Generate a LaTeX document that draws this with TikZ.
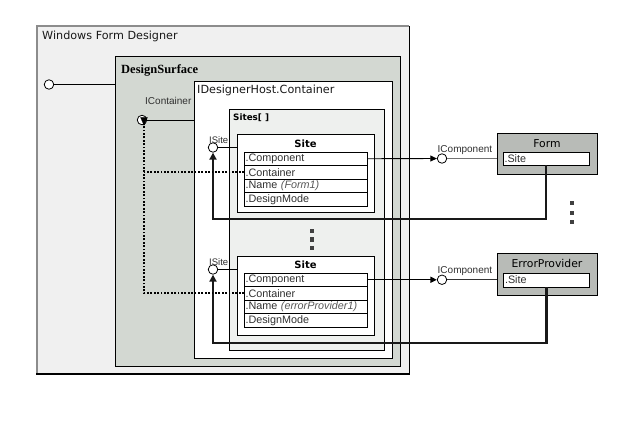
\documentclass[tikz,border=0pt]{standalone}
\usepackage{fontspec}
\setmainfont{Liberation Sans}
\newfontfamily\hdfont{DejaVu Sans}
\newfontfamily\serifbf{Liberation Serif}
\usetikzlibrary{arrows.meta}
\definecolor{outerfill}{HTML}{F0F0F0}
\definecolor{dsfill}{HTML}{D3D8D2}
\definecolor{sitesfill}{HTML}{EEF0EE}
\definecolor{compfill}{HTML}{B8BBB7}
\definecolor{txt}{HTML}{303030}
\begin{document}
\begin{tikzpicture}[x=1pt,y=-1pt,
  frame/.style={anchor=north west, inner sep=0pt, outer sep=0pt},
  boxln/.style={frame, draw=black, line width=0.8pt},
  field/.style={frame, draw=black, line width=0.7pt, fill=white, text width=120pt, inner xsep=1.5pt,
     minimum height=13.5pt, align=left, text=txt, font=\fontsize{10.8}{11}\selectfont},
  sfield/.style={field, text width=83pt},
  hdr/.style={anchor=base west, inner sep=0pt, font=\hdfont\fontsize{11.2}{12}\selectfont, text=black!90},
  lbl/.style={anchor=base west, inner sep=0pt, text=txt, font=\fontsize{10}{11}\selectfont},
  port/.style={circle, draw=black, line width=0.8pt, fill=white, minimum size=9.5pt, inner sep=0pt},
  dotsq/.style={fill=black!75, minimum size=4.2pt, inner sep=0pt},
  thinarr/.style={line width=0.9pt, -{Triangle[length=6.5pt,width=6pt]}},
  retarr/.style={line width=2.2pt, draw=black!90, -{Triangle[length=7pt,width=7pt]}},
  dotarr/.style={line width=1.9pt, dash pattern=on 1.8pt off 1.6pt},
]
\useasboundingbox (0,0) rectangle (629,431);
\fill[white] (0,0) rectangle (629,431);

% Windows Form Designer
\node[frame, fill=outerfill, minimum width=372pt, minimum height=348pt] (wfd) at (37,26) {};
\draw[black!45, line width=1.6pt] (wfd.south west) -- (wfd.north west) -- (wfd.north east);
\draw[black, line width=0.9pt] (wfd.north east) -- (wfd.south east);
\draw[black, line width=2.2pt] ([xshift=-0.8pt]wfd.south west) -- ([xshift=0.5pt]wfd.south east);
\node[hdr] (wfdt) at (42,39) {Windows Form Designer};

% DesignSurface
\node[boxln, fill=dsfill, minimum width=285pt, minimum height=310pt] (ds) at (115,56) {};
\node[anchor=base west, inner sep=0pt, font=\serifbf\bfseries\fontsize{12.5}{14}\selectfont] (dst) at (121,73) {DesignSurface};

% IDesignerHost.Container
\node[boxln, fill=white, minimum width=198pt, minimum height=277pt] (idh) at (194,81) {};
\node[hdr] (idht) at (197,93) {IDesignerHost.Container};

% Sites[]
\node[boxln, fill=sitesfill, minimum width=155pt, minimum height=241pt] (sites) at (229,109) {};
\node[anchor=base west, inner sep=0pt, font=\hdfont\bfseries\fontsize{8.8}{10}\selectfont] (sitest) at (233,120) {Sites[ ]};

% Site 1
\node[boxln, line width=1pt, fill=white, minimum width=137pt, minimum height=78pt] (site1) at (237,134) {};
\node[anchor=base, inner sep=0pt, font=\hdfont\bfseries\fontsize{10}{12}\selectfont] (site1t) at (305.5,147) {Site};
\node[field] (s1comp) at (244,152) {.Component};
\node[field] (s1cont) at (s1comp.south west) {.Container};
\node[field] (s1name) at (s1cont.south west) {.Name \textcolor{black!65}{\itshape (Form1)}};
\node[field] (s1dm) at (s1name.south west) {.DesignMode};

% middle dots
\node[dotsq] (md1) at (312,231) {};
\node[dotsq] (md2) at (312,239.5) {};
\node[dotsq] (md3) at (312,248) {};

% Site 2
\node[boxln, line width=1pt, fill=white, minimum width=137pt, minimum height=79pt] (site2) at (237,256) {};
\node[anchor=base, inner sep=0pt, font=\hdfont\bfseries\fontsize{10}{12}\selectfont] (site2t) at (305.5,268.5) {Site};
\node[field] (s2comp) at (244,273) {.Component};
\node[field] (s2cont) at (s2comp.south west) {.Container};
\node[field] (s2name) at (s2cont.south west) {.Name \textcolor{black!65}{\itshape (errorProvider1)}};
\node[field] (s2dm) at (s2name.south west) {.DesignMode};

% Form
\node[boxln, line width=1pt, fill=compfill, minimum width=100pt, minimum height=41pt] (form) at (497,133) {};
\node[anchor=base, inner sep=0pt, font=\hdfont\fontsize{10.8}{12}\selectfont] (formt) at (547,147) {Form};
\node[sfield, minimum height=13pt] (fsite) at (503,152) {.Site};

% ErrorProvider
\node[boxln, line width=1pt, fill=compfill, minimum width=100pt, minimum height=42pt] (ep) at (497,253) {};
\node[anchor=base, inner sep=0pt, font=\hdfont\fontsize{10.8}{12}\selectfont] (ept) at (547,267) {ErrorProvider};
\node[sfield, minimum height=14pt] (esite) at (503.5,273) {.Site};

% right dots
\node[dotsq, minimum size=4pt] (rd1) at (572,203) {};
\node[dotsq, minimum size=4pt] (rd2) at (572,212.5) {};
\node[dotsq, minimum size=4pt] (rd3) at (572,222) {};

% ports
\node[port] (p0) at (49,84.5) {};
\draw[line width=0.9pt] (p0) -- (p0 -| ds.west);

\node[port] (pcont) at (142,120) {};
\node[lbl] (pcontl) at (145,104) {IContainer};
\draw[line width=0.9pt] (pcont) -- (pcont -| idh.west);

\node[port] (ps1) at (213,147.5) {};
\node[lbl, font=\fontsize{9.5}{10}\selectfont] (ps1l) at (209,143.5) {ISite};
\draw[line width=0.9pt] (ps1) -- (ps1 -| site1.west);

\node[port] (ps2) at (213,269.5) {};
\node[lbl, font=\fontsize{9.5}{10}\selectfont] (ps2l) at (209,265) {ISite};
\draw[line width=0.9pt] (ps2) -- (ps2 -| site2.west);

\node[port] (pc1) at (442,158.5) {};
\node[lbl] (pc1l) at (437.5,152) {IComponent};
\draw[thinarr] (s1comp.east) -- (pc1.west);
\draw[line width=0.9pt, black!55] (pc1.east) -- (pc1 -| form.west);

\node[port] (pc2) at (442,279.75) {};
\node[lbl] (pc2l) at (437.5,273) {IComponent};
\draw[thinarr, line width=1.4pt] (s2comp.east) -- (pc2.west);
\draw[line width=0.9pt, black!80] (pc2.east) -- (pc2 -| ep.west);

% return arrows from .Site to ISite
\coordinate (r1) at (0,219);
\coordinate (r2) at (0,343);
\draw[retarr] (fsite.south) -- (fsite.south |- r1) -| (ps1.south);
\draw[retarr] (esite.south) -- (esite.south |- r2) -| (ps2.south);

% dotted container links
\coordinate (dx) at (144,0);
\draw[dotarr] (s1cont.west) -- (s1cont.west -| dx);
\draw[dotarr] (s2cont.west) -- (s2cont.west -| dx) -- ([yshift=6pt]dx |- pcont.south);
\draw[line width=0.1pt, fill=black] ([yshift=-0.3pt]dx |- pcont.south) -- ++(-3.5pt,8pt) -- ++(7pt,0) -- cycle;
\end{tikzpicture}
\end{document}
